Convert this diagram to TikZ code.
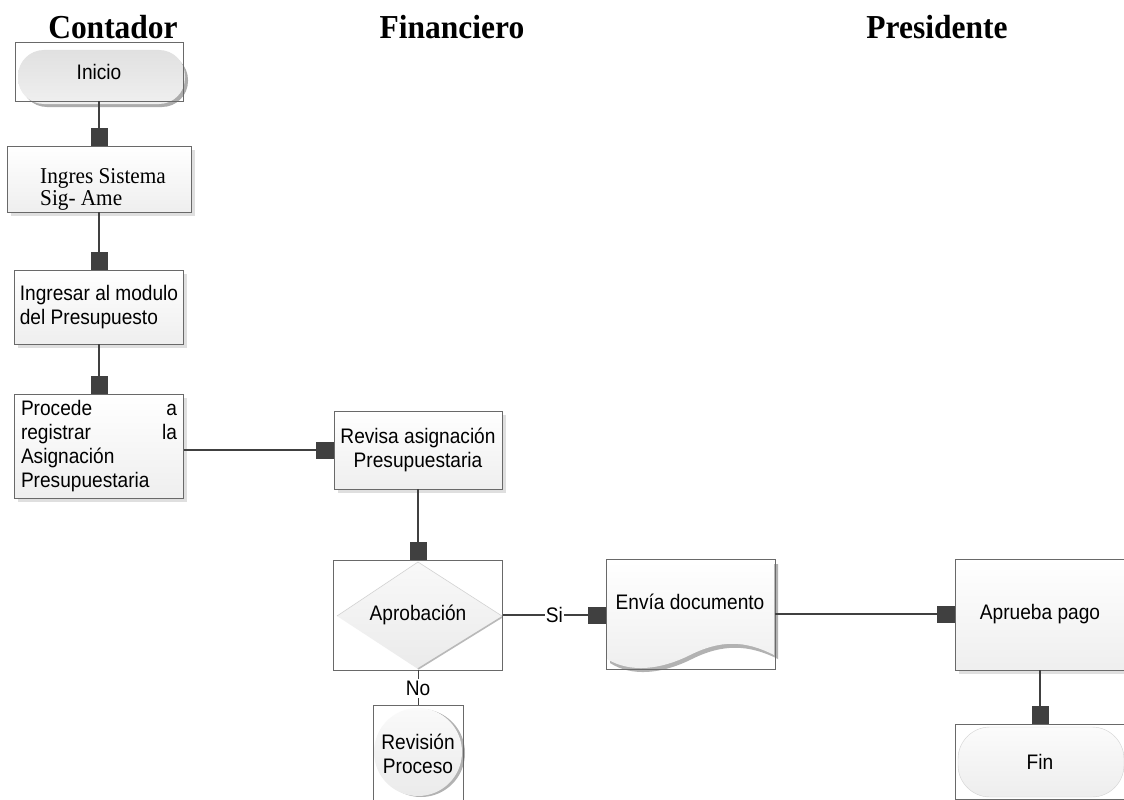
\documentclass[tikz,border=0pt]{standalone}
\usepackage{fontspec}
\setmainfont{Liberation Serif}[FakeStretch=0.94]
\setsansfont{Liberation Sans}[FakeStretch=0.91]
\usetikzlibrary{arrows.meta,shadows}
\definecolor{linkgray}{RGB}{64,64,64}
\definecolor{edgegray}{RGB}{105,105,105}
\tikzset{
  lane/.style={font=\bfseries\fontsize{33.5}{36}\selectfont, inner sep=0pt},
  txt/.style={font=\sffamily\fontsize{21}{24}\selectfont, inner sep=0pt},
  frame/.style={draw=edgegray, line width=1pt, inner sep=0pt, outer sep=0pt,
    font=\sffamily\fontsize{21}{24}\selectfont},
  procbox/.style={frame, top color=white, bottom color=gray!13,
    drop shadow={shadow xshift=3.5pt, shadow yshift=-3.5pt, fill=gray!25, opacity=1}},
  link/.style={draw=linkgray, line width=2.8pt,
    -{Square[length=18pt,width=17pt,line width=0pt]}},
  thinlink/.style={draw=linkgray, line width=1pt},
  pill/.style={rounded corners=26pt},
}
\begin{document}
\begin{tikzpicture}[x=1pt,y=-1pt]
\useasboundingbox (0,0) rectangle (1124,800);
\fill[white] (0,0) rectangle (1124,800);

% lane headings
\node[lane] (hCont) at (113,27) {Contador};
\node[lane] (hFin)  at (452,27) {Financiero};
\node[lane] (hPres) at (937,27) {Presidente};

% inner symbols drawn beneath their frames
% start terminal
\fill[gray!65, pill] (21,54) rectangle (188,107);
\shade[pill, top color=gray!24, middle color=gray!6, bottom color=gray!12] (18,50) rectangle (185,104);
% decision
\shade[top color=gray!5, bottom color=gray!16] (337,616) -- (418,562) -- (502,616) -- (418,669) -- cycle;
\draw[gray!35, line width=0.6pt] (337,616) -- (418,562) -- (502,616);
\draw[gray!55, line width=1.6pt] (502,617) -- (418,669);
% document
\fill[gray!60] (610,564) -- (778,564) -- (778,659)
  .. controls (748,644) and (722,644) .. (692,659)
  .. controls (662,674) and (632,677) .. (610,663) -- cycle;
\shade[top color=white, bottom color=gray!13] (607,561) -- (774,561) -- (774,655)
  .. controls (745,640) and (720,640) .. (690,655)
  .. controls (660,670) and (630,673) .. (607,659) -- cycle;
% connector circle
\fill[gray!60] (421,753) circle (44);
\shade[top color=gray!4, bottom color=gray!16] (418,752) circle (44);
% end terminal
\shade[rounded corners=32pt, top color=gray!3, bottom color=gray!14, draw=gray!35]
  (958,727) rectangle (1124,797);

% frames and steps
\node[frame, minimum width=168pt, minimum height=58pt] (ini) at (99,72) {Inicio};
\node[procbox, minimum width=184pt, minimum height=66pt] (ing) at (99,179) {};
\node[anchor=base west, inner sep=0pt, font=\fontsize{22.6}{24}\selectfont] (ingA) at (40,183) {Ingres Sistema};
\node[anchor=base west, inner sep=0pt, font=\fontsize{22.6}{24}\selectfont] (ingB) at (40,205) {Sig- Ame};
\node[procbox, minimum width=169pt, minimum height=74pt, align=left] (mod) at (99,307)
  {Ingresar al modulo\\del Presupuesto};
\node[procbox, minimum width=169pt, minimum height=104pt, text width=156pt, align=left] (proc) at (99,446)
  {Procede \hfill a\\registrar \hfill la\\Asignación\\Presupuestaria};
\node[procbox, minimum width=168pt, minimum height=78pt, align=center] (revi) at (418,450)
  {Revisa asignación\\Presupuestaria};
\node[frame, minimum width=169pt, minimum height=110pt] (apr) at (418,615) {Aprobación};
\node[frame, minimum width=169pt, minimum height=110pt] (env) at (690.5,614) {};
\node[txt] (envT) at (690,602) {Envía documento};
\node[procbox, minimum width=170pt, minimum height=111pt] (apb) at (1040,614.5) {Aprueba pago};
\node[frame, minimum width=170pt, minimum height=75pt] (fin) at (1040,761.5) {Fin};
\node[frame, minimum width=90pt, minimum height=97pt, align=center] (rvp) at (418,753.5)
  {Revisión\\Proceso};

% connectors
\draw[link] (ini.south) -- (ing.north);
\draw[link] (ing.south) -- (mod.north);
\draw[link] (mod.south) -- (proc.north);
\draw[link] (proc.east |- revi.west) -- (revi.west);
\draw[link] (revi.south) -- (apr.north);
\draw[link] (apr.east) -- node[txt, fill=white, inner xsep=1pt] (si) {Si} (env.west |- apr.east);
\draw[link] (env.east) -- (apb.west |- env.east);
\draw[link] (apb.south) -- (fin.north);
\draw[thinlink] (apr.south) -- node[txt, fill=white, inner ysep=2pt, pos=0.52] (no) {No} (rvp.north);
\end{tikzpicture}
\end{document}
